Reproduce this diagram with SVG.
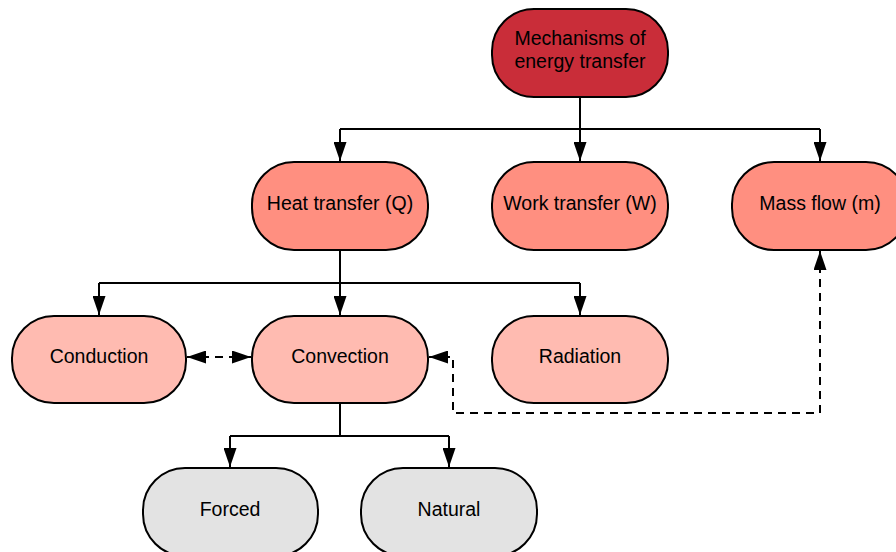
<svg xmlns="http://www.w3.org/2000/svg" width="896" height="552" viewBox="0 0 896 552">
  <style>
    .node { stroke: #000; stroke-width: 2; }
    .lvl0 { fill: #C92D39; }
    .lvl1 { fill: #FF8F80; }
    .lvl2 { fill: #FFBBB1; }
    .lvl3 { fill: #E3E3E3; }
    .label { font-family: "Liberation Sans", Arial, sans-serif; font-size: 19.5px; fill: #000; text-anchor: middle; }
    .edge { fill: none; stroke: #000; stroke-width: 2; }
    .dashed { stroke-dasharray: 8 6; }
  </style>
  <defs>
    <marker id="arrow" viewBox="0 0 19 13" refX="19" refY="6.5" markerWidth="19" markerHeight="13" markerUnits="userSpaceOnUse" orient="auto-start-reverse">
      <path d="M0,0 L19,6.5 L0,13 Z" fill="#000"/>
    </marker>
  </defs>

  <g id="connectors">
    <!-- root to first level -->
    <path class="edge" d="M580,97 V129 M340,129 H820" />
    <path class="edge" d="M340,129 V161" marker-end="url(#arrow)"/>
    <path class="edge" d="M580,97 V161" marker-end="url(#arrow)"/>
    <path class="edge" d="M820,129 V161" marker-end="url(#arrow)"/>
    <!-- heat transfer to its modes -->
    <path class="edge" d="M340,250 V283 M99,283 H580" />
    <path class="edge" d="M99,283 V315" marker-end="url(#arrow)"/>
    <path class="edge" d="M340,283 V315" marker-end="url(#arrow)"/>
    <path class="edge" d="M580,283 V315" marker-end="url(#arrow)"/>
    <!-- convection types -->
    <path class="edge" d="M340,403 V436 M230,436 H449" />
    <path class="edge" d="M230,436 V467" marker-end="url(#arrow)"/>
    <path class="edge" d="M449,436 V467" marker-end="url(#arrow)"/>
    <!-- coupling links -->
    <path class="edge dashed" d="M187,357 H251" marker-start="url(#arrow)" marker-end="url(#arrow)"/>
    <path class="edge dashed" d="M820,251 V413 H453 V357 H429" marker-start="url(#arrow)" marker-end="url(#arrow)"/>
  </g>

  <g id="mechanisms">
    <rect class="node lvl0" x="492" y="9" width="176" height="88" rx="42"/>
    <text class="label" x="580" y="45">Mechanisms of</text>
    <text class="label" x="580" y="68">energy transfer</text>
  </g>

  <g id="heat-transfer">
    <rect class="node lvl1" x="252" y="162" width="176" height="88" rx="42"/>
    <text class="label" x="340" y="210">Heat transfer (Q)</text>
  </g>
  <g id="work-transfer">
    <rect class="node lvl1" x="492" y="162" width="176" height="88" rx="42"/>
    <text class="label" x="580" y="210">Work transfer (W)</text>
  </g>
  <g id="mass-flow">
    <rect class="node lvl1" x="732" y="162" width="176" height="88" rx="42"/>
    <text class="label" x="820" y="210">Mass flow (m)</text>
  </g>

  <g id="conduction">
    <rect class="node lvl2" x="12" y="316" width="174" height="87" rx="42"/>
    <text class="label" x="99" y="363">Conduction</text>
  </g>
  <g id="convection">
    <rect class="node lvl2" x="252" y="316" width="176" height="87" rx="42"/>
    <text class="label" x="340" y="363">Convection</text>
  </g>
  <g id="radiation">
    <rect class="node lvl2" x="492" y="316" width="176" height="87" rx="42"/>
    <text class="label" x="580" y="363">Radiation</text>
  </g>

  <g id="forced">
    <rect class="node lvl3" x="143" y="468" width="175" height="88" rx="42"/>
    <text class="label" x="230" y="516">Forced</text>
  </g>
  <g id="natural">
    <rect class="node lvl3" x="361" y="468" width="176" height="88" rx="42"/>
    <text class="label" x="449" y="516">Natural</text>
  </g>
</svg>
